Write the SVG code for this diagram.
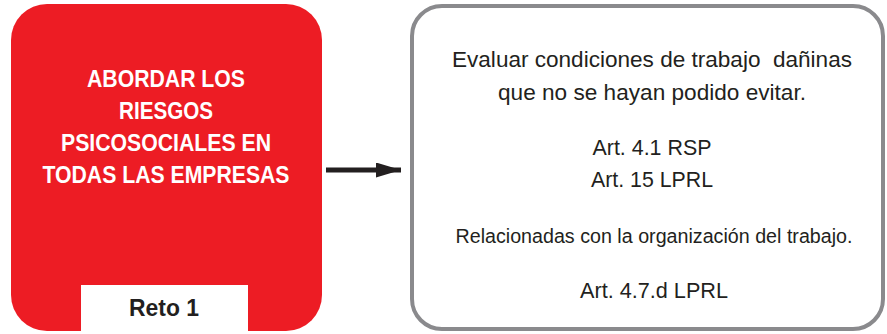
<svg xmlns="http://www.w3.org/2000/svg" width="887" height="334" viewBox="0 0 887 334">
<style>
.title{font-family:"Liberation Sans",Arial,sans-serif;font-weight:bold;font-size:24px;fill:#ffffff;text-anchor:middle}
.tab{font-family:"Liberation Sans",Arial,sans-serif;font-weight:bold;font-size:24px;fill:#231f20;text-anchor:middle}
.body{font-family:"Liberation Sans",Arial,sans-serif;font-size:22px;fill:#231f20;text-anchor:middle}
.narrow{font-size:20px}
</style>
<defs>
<marker id="ah" markerWidth="5" markerHeight="3" refX="5" refY="1.5" orient="auto" markerUnits="strokeWidth">
<path d="M0,0 L5,1.5 L0,3 Z" fill="#231f20"/>
</marker>
</defs>
<rect width="887" height="334" fill="#ffffff"/>
<g id="reto1">
<rect x="11" y="4" width="311" height="327" rx="36" ry="36" fill="#ed1c24"/>
<text class="title" x="166" y="87" textLength="158" lengthAdjust="spacingAndGlyphs">ABORDAR LOS</text>
<text class="title" x="166" y="119" textLength="94" lengthAdjust="spacingAndGlyphs">RIESGOS</text>
<text class="title" x="166" y="151" textLength="210" lengthAdjust="spacingAndGlyphs">PSICOSOCIALES EN</text>
<text class="title" x="166" y="183" textLength="247" lengthAdjust="spacingAndGlyphs">TODAS LAS EMPRESAS</text>
<rect x="81" y="285" width="167" height="46" fill="#ffffff"/>
<text class="tab" x="164" y="316" textLength="70" lengthAdjust="spacingAndGlyphs">Reto 1</text>
</g>
<g id="connectors">
<line x1="326" y1="170" x2="401" y2="170" stroke="#231f20" stroke-width="5" marker-end="url(#ah)"/>
</g>
<g id="detalle">
<rect x="412" y="6" width="471" height="323" rx="30" ry="30" fill="#ffffff" stroke="#8a8a8d" stroke-width="4"/>
<text class="body" x="652" y="67" textLength="400" lengthAdjust="spacingAndGlyphs" xml:space="preserve">Evaluar condiciones de trabajo  dañinas</text>
<text class="body" x="652" y="100" textLength="308" lengthAdjust="spacingAndGlyphs">que no se hayan podido evitar.</text>
<text class="body" x="652" y="155" textLength="119" lengthAdjust="spacingAndGlyphs">Art. 4.1 RSP</text>
<text class="body" x="652" y="187" textLength="122" lengthAdjust="spacingAndGlyphs">Art. 15 LPRL</text>
<text class="body narrow" x="654" y="243" textLength="397" lengthAdjust="spacingAndGlyphs">Relacionadas con la organización del trabajo.</text>
<text class="body" x="654" y="298" textLength="148" lengthAdjust="spacingAndGlyphs">Art. 4.7.d LPRL</text>
</g>
</svg>
